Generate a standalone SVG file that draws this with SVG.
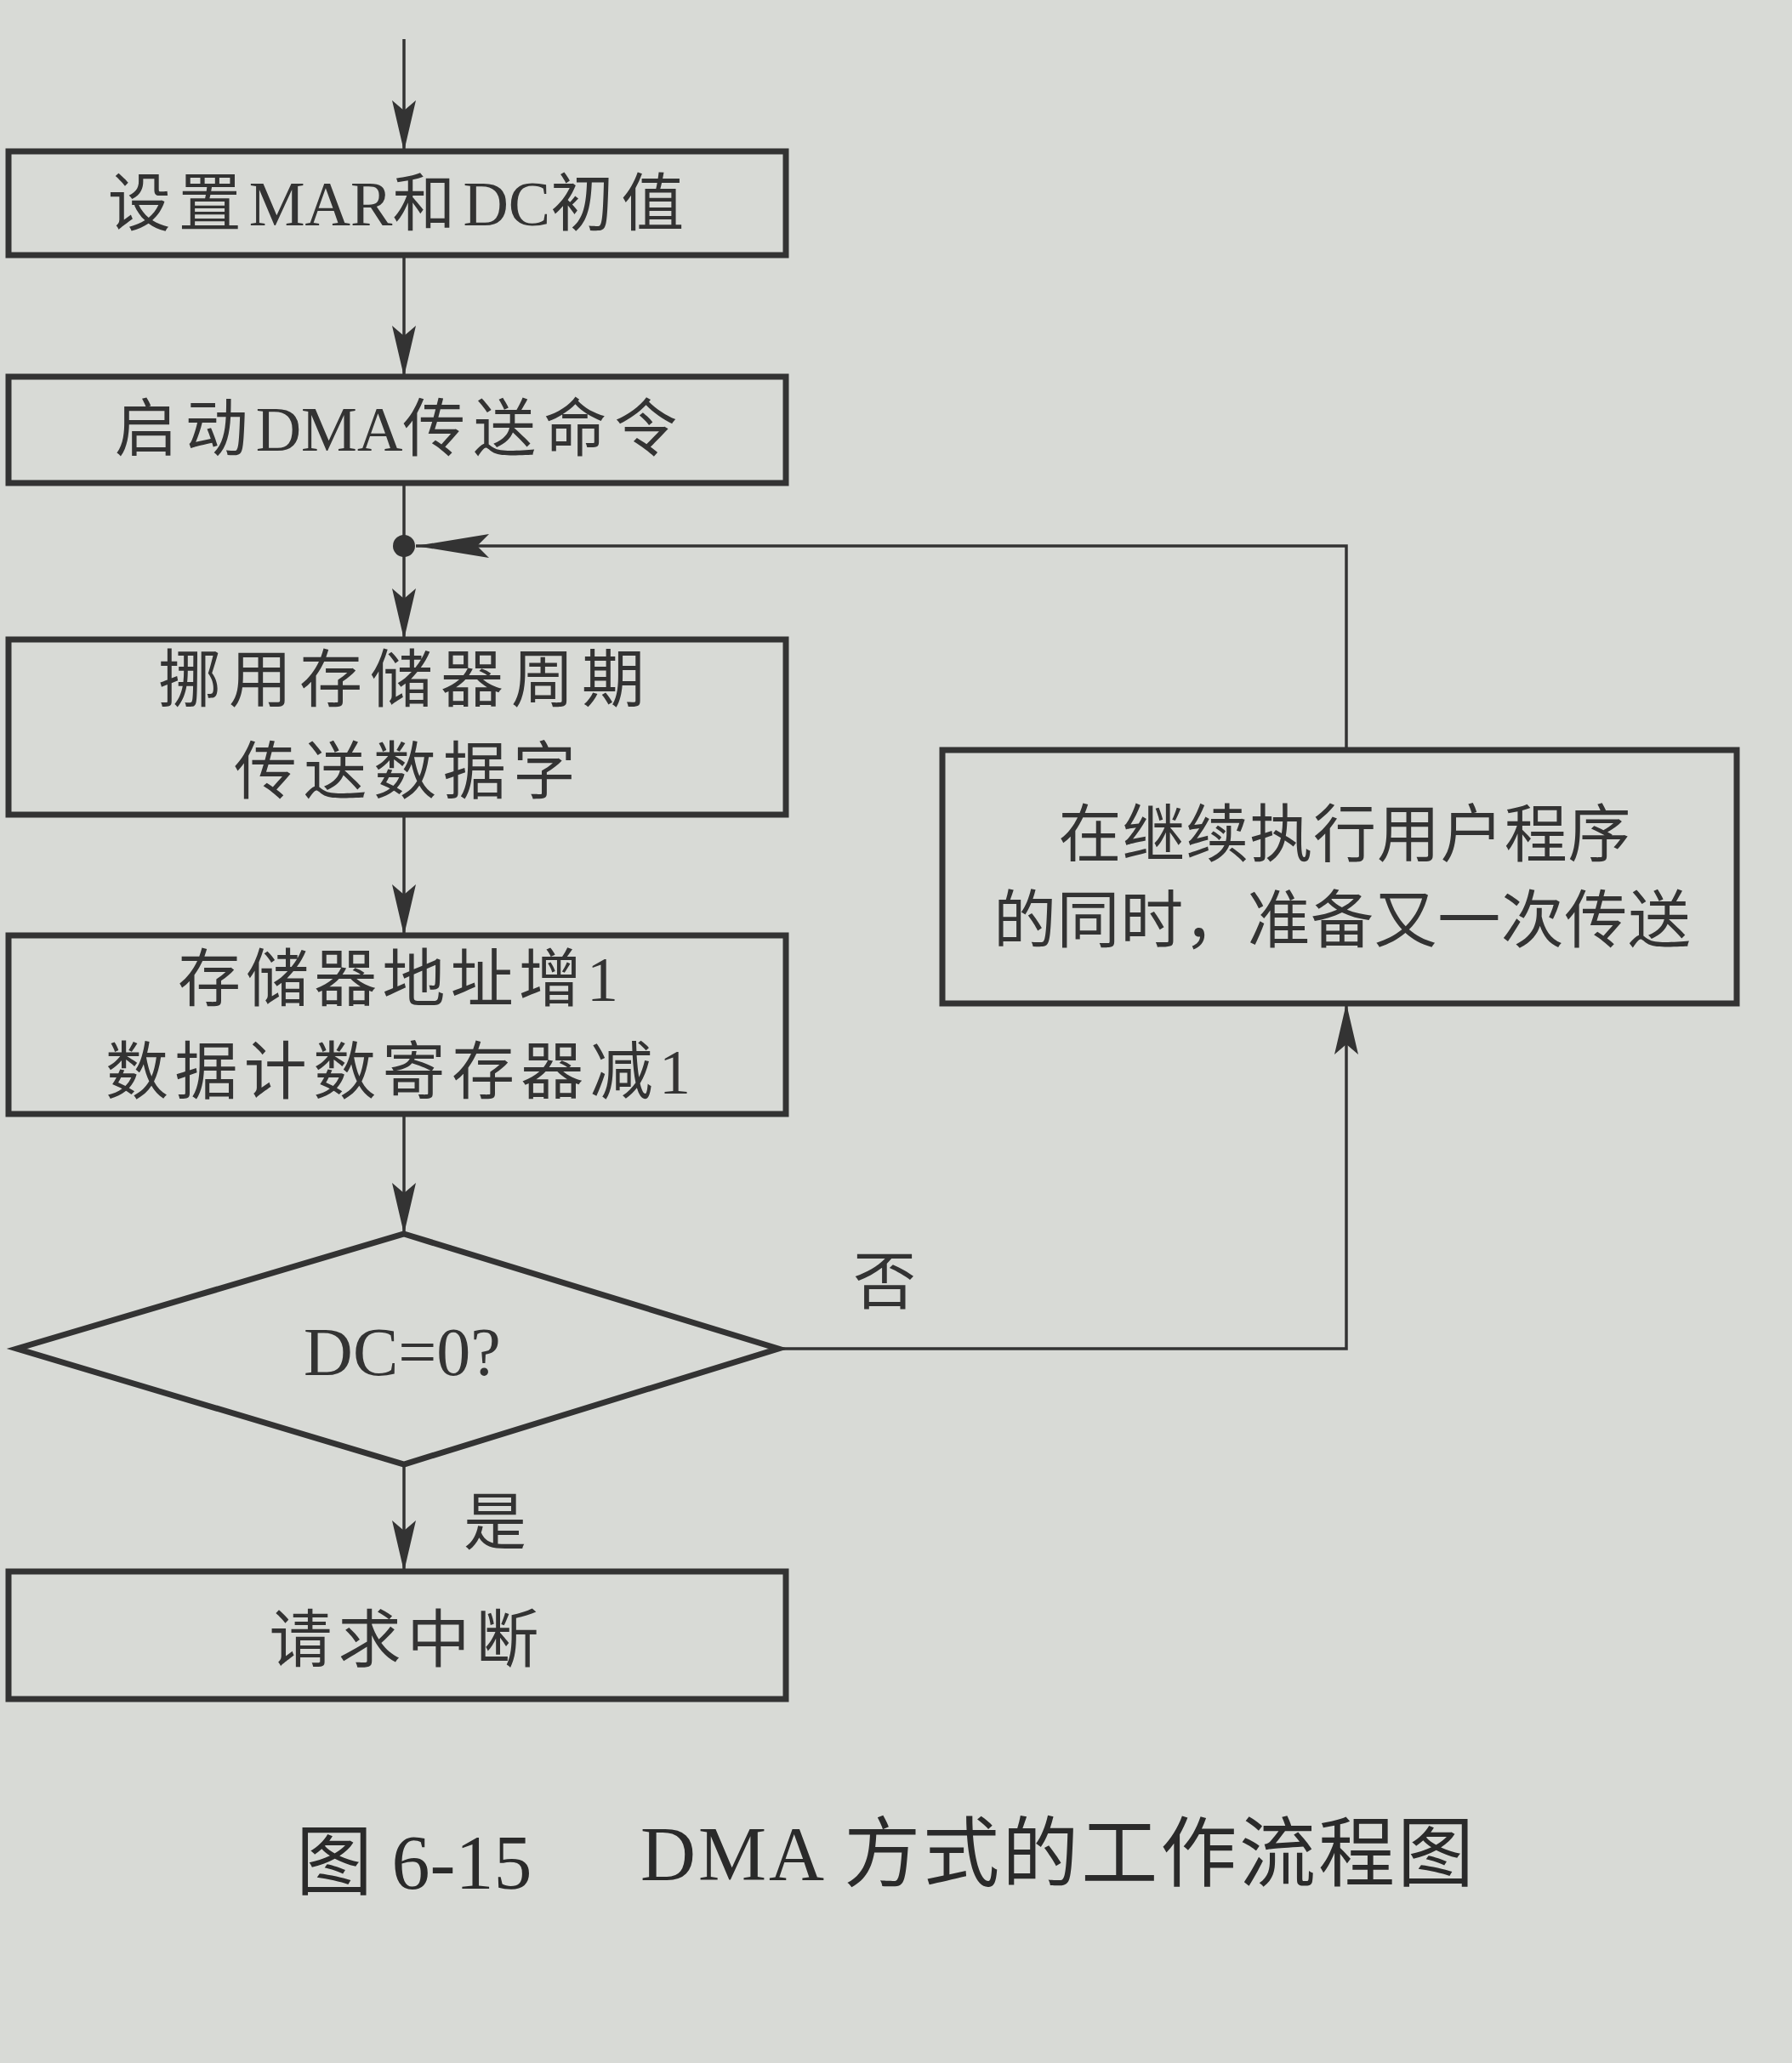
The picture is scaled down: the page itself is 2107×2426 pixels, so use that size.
<svg xmlns="http://www.w3.org/2000/svg" width="2107" height="2426" viewBox="0 0 2107 2426">
<style>
.bg{fill:#d8dad6}
.box{fill:none;stroke:#333;stroke-width:7}
.ln{fill:none;stroke:#333;stroke-width:3.5}
.t{font-family:"Liberation Serif","Noto Sans CJK SC",serif;font-size:74px;fill:#333;text-anchor:middle;dominant-baseline:central}
.cj{letter-spacing:9px}
.cap{font-family:"Liberation Serif","Noto Sans CJK SC",serif;font-size:90px;fill:#2a2a2a;dominant-baseline:central}
</style>
<defs>
<marker id="arr" markerUnits="userSpaceOnUse" markerWidth="62" markerHeight="32" refX="60" refY="16" orient="auto">
<path d="M0,2 L60,16 L0,30 L12,16 Z" fill="#333"/>
</marker>
<marker id="arrL" markerUnits="userSpaceOnUse" markerWidth="88" markerHeight="32" refX="86" refY="16" orient="auto">
<path d="M0,2 L86,16 L0,30 L14,16 Z" fill="#333"/>
</marker>
</defs>
<rect class="bg" x="0" y="0" width="2107" height="2426"/>
<g id="connectors">
<line class="ln" x1="475" y1="46" x2="475" y2="178" marker-end="url(#arr)"/>
<line class="ln" x1="475" y1="300" x2="475" y2="443" marker-end="url(#arr)"/>
<line class="ln" x1="475" y1="568" x2="475" y2="752" marker-end="url(#arr)"/>
<line class="ln" x1="475" y1="958" x2="475" y2="1100" marker-end="url(#arr)"/>
<line class="ln" x1="475" y1="1310" x2="475" y2="1451" marker-end="url(#arr)"/>
<line class="ln" x1="475" y1="1722" x2="475" y2="1848" marker-end="url(#arr)"/>
<polyline class="ln" points="915,1586 1583,1586 1583,1180" marker-end="url(#arr)"/>
<polyline class="ln" points="1583,882 1583,642 489,642" marker-end="url(#arrL)"/>
<circle cx="475" cy="642" r="13" fill="#333"/>
<text class="t" x="1040" y="1508">否</text>
<text class="t" x="582" y="1791">是</text>
</g>
<g id="n1">
<rect class="box" x="10" y="178" width="914" height="122"/>
<text class="t" x="470" y="240"><tspan class="cj">设置</tspan>MAR<tspan class="cj">和</tspan>DC<tspan class="cj">初值</tspan></text>
</g>
<g id="n2">
<rect class="box" x="10" y="443" width="914" height="125"/>
<text class="t" x="470" y="505"><tspan class="cj">启动</tspan>DMA<tspan class="cj">传送命令</tspan></text>
</g>
<g id="n3">
<rect class="box" x="10" y="752" width="914" height="206"/>
<text class="t" x="472" y="800" textLength="572" lengthAdjust="spacing">挪用存储器周期</text>
<text class="t" x="476" y="908" textLength="402" lengthAdjust="spacing">传送数据字</text>
</g>
<g id="n4">
<rect class="box" x="10" y="1100" width="914" height="210"/>
<text class="t" x="468" y="1152" textLength="518" lengthAdjust="spacing">存储器地址增1</text>
<text class="t" x="468" y="1261" textLength="688" lengthAdjust="spacing">数据计数寄存器减1</text>
</g>
<g id="n5">
<polygon class="box" points="475,1451 915,1586 475,1722 20,1586"/>
<text class="t" x="473" y="1590" style="font-size:80px">DC=0?</text>
</g>
<g id="n6">
<rect class="box" x="1108" y="882" width="934" height="298"/>
<text class="t" x="1581" y="982" textLength="673" lengthAdjust="spacing">在继续执行用户程序</text>
<text class="t" x="1578" y="1083" textLength="820" lengthAdjust="spacing">的同时，准备又一次传送</text>
</g>
<g id="n7">
<rect class="box" x="10" y="1848" width="914" height="150"/>
<text class="t" x="475" y="1929" textLength="317" lengthAdjust="spacing">请求中断</text>
</g>
<g id="caption">
<text class="cap" x="348" y="2190">图 6-15</text>
<text class="cap" x="753" y="2180" textLength="980" lengthAdjust="spacing">DMA 方式的工作流程图</text>
</g>
</svg>
